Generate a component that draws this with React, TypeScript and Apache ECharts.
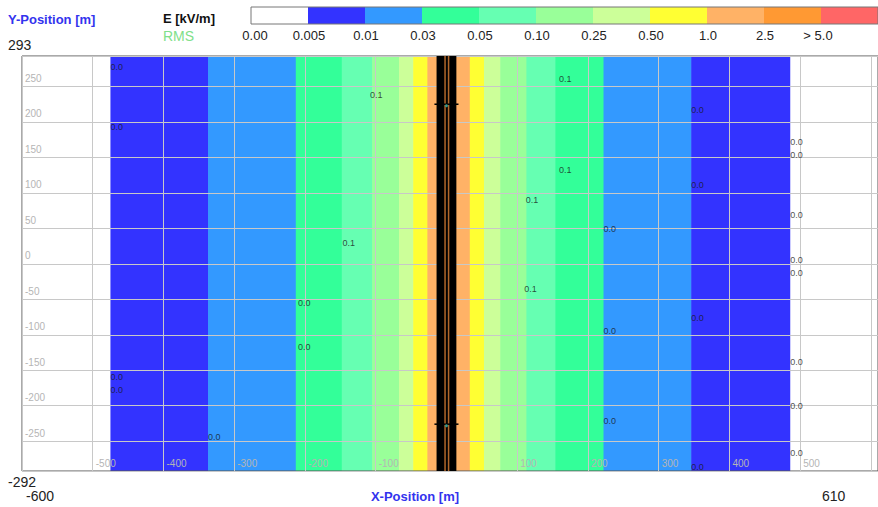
import React, { useEffect, useRef } from "react";
import * as echarts from "echarts";

// ---------- data ----------
const X_RANGE = [-600, 610];
const Y_RANGE = [-292, 293];

const LEVEL_COLORS = [
  "#FFFFFF", "#3333FF", "#3399FF", "#33FF99", "#66FFB2", "#99FF99",
  "#CCFF99", "#FFFF33", "#FFB266", "#FF9933", "#FF6666",
];
const LEVEL_LABELS = ["0.00", "0.005", "0.01", "0.03", "0.05", "0.10", "0.25", "0.50", "1.0", "2.5", "> 5.0"];

// band edges along X (m) and the level index of each band
const BAND_EDGES = [-600, -475, -337, -213, -148, -105, -67, -47, -27, -13, 15, 33, 53, 76, 113, 154, 222, 346, 486, 610];
const BAND_LEVELS = [0, 1, 2, 3, 4, 5, 6, 7, 8, 8, 8, 7, 6, 5, 4, 3, 2, 1, 0];

// conductor corridor (x in m), wires (x in m) and cross-arms (y in m)
const CORRIDOR_X = [-14, 14];
const WIRE_X = [-2, 3];
const CROSSARM_Y = [225, -226];
const CROSSARM_X = [-17, 17];

// contour labels [x, y, text]
const CONTOUR_LABELS: [number, number, string][] = [
  [-475, 277, "0.0"], [-108, 238, "0.1"], [159, 261, "0.1"], [-475, 193, "0.0"],
  [346, 217, "0.0"], [486, 172, "0.0"], [486, 153, "0.0"], [159, 132, "0.1"],
  [346, 111, "0.0"], [112, 90, "0.1"], [486, 69, "0.0"], [222, 49, "0.0"],
  [-147, 29, "0.1"], [486, 5, "0.0"], [486, -13, "0.0"], [110, -36, "0.1"],
  [-210, -55, "0.0"], [346, -77, "0.0"], [222, -95, "0.0"], [-210, -117, "0.0"],
  [486, -139, "0.0"], [-475, -160, "0.0"], [-475, -178, "0.0"], [486, -201, "0.0"],
  [222, -222, "0.0"], [-337, -244, "0.0"], [486, -267, "0.0"], [346, -287, "0.0"],
];

const FONT = "Liberation Sans, Arial, sans-serif";

export default function App() {
  const ref = useRef<HTMLDivElement>(null);

  useEffect(() => {
    if (!ref.current) return;
    const chart = echarts.init(ref.current, undefined, { renderer: "svg" });

    const bands = BAND_LEVELS.map((lvl, i) => [BAND_EDGES[i], BAND_EDGES[i + 1], lvl]);

    const BAR_X = 251, BAR_Y = 7, CELL_W = 57, CELL_H = 17;
    const barGraphics: any[] = LEVEL_COLORS.map((c, i) => ({
      type: "rect",
      shape: { x: BAR_X + i * CELL_W, y: BAR_Y, width: CELL_W, height: CELL_H },
      style: { fill: c },
    }));
    barGraphics.push({
      type: "rect",
      shape: { x: BAR_X, y: BAR_Y, width: CELL_W * LEVEL_COLORS.length, height: CELL_H },
      style: { fill: "none", stroke: "#777", lineWidth: 1 },
    });
    LEVEL_LABELS.forEach((t, i) => {
      let cx = BAR_X + i * CELL_W + 1;
      if (i === 0) cx = 255;
      if (i === LEVEL_LABELS.length - 1) cx = 818;
      barGraphics.push({
        type: "text",
        x: cx,
        y: 35,
        style: { text: t, fill: "#222", font: `13px ${FONT}`, textAlign: "center", textVerticalAlign: "middle" },
      });
    });

    const txt = (text: string, x: number, y: number, font: string, fill: string, align = "left") => ({
      type: "text",
      x,
      y,
      style: { text, fill, font, textAlign: align, textVerticalAlign: "middle" },
    });

    const option: any = {
      animation: false,
      backgroundColor: "#FFFFFF",
      grid: {
        left: 22,
        top: 56,
        width: 862,
        height: 415,
        show: true,
        borderColor: "#555",
        borderWidth: 1,
        backgroundColor: "transparent",
        z: 1,
      },
      xAxis: {
        type: "value",
        min: X_RANGE[0],
        max: X_RANGE[1],
        interval: 100,
        z: 1,
        axisLine: { show: false },
        axisTick: { show: false },
        splitLine: { show: true, lineStyle: { color: "#C8C8C8", width: 1 } },
        axisLabel: {
          inside: true,
          showMinLabel: false,
          showMaxLabel: false,
          color: "#B5B5B5",
          fontSize: 10,
          fontFamily: FONT,
          align: "left",
          verticalAlign: "bottom",
          padding: [0, 0, 0, 3],
          margin: 3,
          formatter: (v: number) => (v >= 600 ? "" : String(v)),
        },
      },
      yAxis: {
        type: "value",
        min: Y_RANGE[0],
        max: Y_RANGE[1],
        minInterval: 50,
        maxInterval: 50,
        z: 1,
        axisLine: { show: false },
        axisTick: { show: false },
        splitLine: { show: true, lineStyle: { color: "#C8C8C8", width: 1 } },
        axisLabel: {
          inside: true,
          showMinLabel: false,
          showMaxLabel: false,
          color: "#B5B5B5",
          fontSize: 10,
          fontFamily: FONT,
          align: "left",
          verticalAlign: "bottom",
          padding: [0, 0, 3, 0],
          margin: 3,
        },
      },
      series: [
        {
          type: "custom",
          z: -1,
          clip: true,
          encode: { x: [0, 1] },
          data: bands,
          renderItem: (params: any, api: any) => {
            const x0 = api.value(0), x1 = api.value(1), lvl = api.value(2);
            const p0 = api.coord([x0, Y_RANGE[1]]);
            const p1 = api.coord([x1, Y_RANGE[0]]);
            return {
              type: "rect",
              shape: { x: p0[0], y: p0[1], width: p1[0] - p0[0] + 0.6, height: p1[1] - p0[1] },
              style: { fill: LEVEL_COLORS[lvl] },
            };
          },
        },
        {
          type: "custom",
          z: 3,
          clip: true,
          encode: { x: [0, 1] },
          data: [CORRIDOR_X],
          renderItem: (params: any, api: any) => {
            const p0 = api.coord([api.value(0), Y_RANGE[1]]);
            const p1 = api.coord([api.value(1), Y_RANGE[0]]);
            return {
              type: "rect",
              shape: { x: p0[0], y: p0[1], width: p1[0] - p0[0], height: p1[1] - p0[1] },
              style: { fill: "#000000" },
            };
          },
        },
        {
          type: "custom",
          z: 4,
          clip: true,
          encode: { x: 0 },
          data: WIRE_X.map((x) => [x]),
          renderItem: (params: any, api: any) => {
            const p0 = api.coord([api.value(0), Y_RANGE[1]]);
            const p1 = api.coord([api.value(0), Y_RANGE[0]]);
            return {
              type: "line",
              shape: { x1: p0[0], y1: p0[1], x2: p1[0], y2: p1[1] },
              style: { stroke: "#B0662A", lineWidth: 1.5 },
            };
          },
        },
        {
          type: "custom",
          z: 4,
          clip: true,
          encode: { y: 0 },
          data: CROSSARM_Y.map((y) => [y]),
          renderItem: (params: any, api: any) => {
            const y = api.value(0);
            const p0 = api.coord([CROSSARM_X[0], y]);
            const p1 = api.coord([CROSSARM_X[1], y]);
            return {
              type: "group",
              children: [
                {
                  type: "line",
                  shape: { x1: p0[0], y1: p0[1], x2: p1[0], y2: p1[1] },
                  style: { stroke: "#000", lineWidth: 1.5 },
                },
                {
                  type: "circle",
                  shape: { cx: (p0[0] + p1[0]) / 2, cy: p0[1] + 1.5, r: 1.5 },
                  style: { fill: "#3a9a8a" },
                },
              ],
            };
          },
        },
        {
          type: "scatter",
          z: 5,
          symbolSize: 0.1,
          data: CONTOUR_LABELS,
          label: {
            show: true,
            position: "right",
            distance: 0,
            formatter: (p: any) => p.value[2],
            color: "#1a1a1a",
            fontSize: 9,
            fontFamily: FONT,
          },
        },
      ],
      graphic: [
        txt("Y-Position [m]", 8, 19, `bold 13px ${FONT}`, "#3333EE"),
        txt("293", 8, 45, `14px ${FONT}`, "#222"),
        txt("E [kV/m]", 163, 18, `bold 13px ${FONT}`, "#111"),
        txt("RMS", 163, 36, `14px ${FONT}`, "#80E08A"),
        txt("-292", 8, 482, `14px ${FONT}`, "#222"),
        txt("-600", 26, 496, `14px ${FONT}`, "#222"),
        txt("X-Position [m]", 415, 496, `bold 13px ${FONT}`, "#3333EE", "center"),
        txt("610", 822, 496, `14px ${FONT}`, "#222"),
        ...barGraphics,
      ],
    };

    chart.setOption(option);
    return () => chart.dispose();
  }, []);

  return (
    <div
      ref={ref}
      style={{ position: "fixed", left: 0, top: 0, width: 878, height: 507, background: "#fff" }}
    />
  );
}
